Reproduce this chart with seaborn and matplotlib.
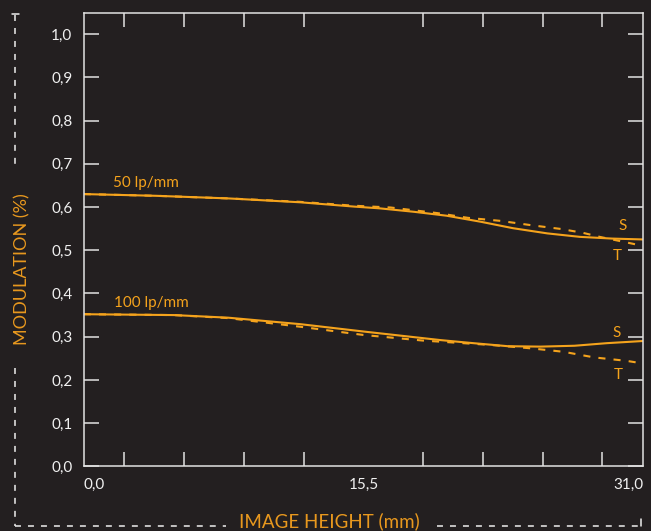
import numpy as np
import pandas as pd
import matplotlib
matplotlib.use("Agg")
import matplotlib.pyplot as plt
from matplotlib.lines import Line2D
import seaborn as sns

# MTF readings (image height in mm, modulation)
height_50_s = [0, 4, 8, 12, 15, 16.4, 18.3, 20.1, 22, 23.8, 25.7, 27.5, 29.3, 31]
mtf_50_s = [0.630, 0.626, 0.620, 0.611, 0.601, 0.597, 0.589, 0.580, 0.566, 0.551, 0.539, 0.531, 0.527, 0.525]
height_50_t = [0, 4, 8, 12, 15, 17, 19.6, 21.3, 23.1, 24.8, 26.5, 27.7, 28.6, 30.1, 31]
mtf_50_t = [0.630, 0.626, 0.620, 0.612, 0.603, 0.599, 0.586, 0.575, 0.568, 0.558, 0.549, 0.540, 0.531, 0.518, 0.510]

height_100_s = [0, 5, 8, 12, 15.5, 19.8, 21.6, 23.5, 25.3, 27.2, 29, 31]
mtf_100_s = [0.352, 0.350, 0.344, 0.329, 0.312, 0.292, 0.285, 0.278, 0.277, 0.279, 0.285, 0.290]
height_100_t = [0, 5, 8, 12, 15.5, 18.8, 20.3, 22.5, 24.8, 26.6, 28.3, 30.1, 31]
mtf_100_t = [0.352, 0.350, 0.343, 0.323, 0.304, 0.291, 0.287, 0.281, 0.273, 0.265, 0.252, 0.244, 0.238]

y_ticks = [0.0, 0.1, 0.2, 0.3, 0.4, 0.5, 0.6, 0.7, 0.8, 0.9, 1.0]
y_labels = ["0,0", "0,1", "0,2", "0,3", "0,4", "0,5", "0,6", "0,7", "0,8", "0,9", "1,0"]
x_ticks = [0.0, 15.5, 31.0]
x_labels = ["0,0", "15,5", "31,0"]
x_minor = [2.26, 5.57, 8.88, 12.19, 15.5, 18.81, 22.12, 25.43, 28.74]

BG = "#231f20"
ORANGE = "#f5a31c"
LABEL_ORANGE = "#e8981e"
AXIS = "#e2e2e2"

frames = []
for freq, h, v, plane in [("50", height_50_s, mtf_50_s, "S"), ("50", height_50_t, mtf_50_t, "T"),
                          ("100", height_100_s, mtf_100_s, "S"), ("100", height_100_t, mtf_100_t, "T")]:
    frames.append(pd.DataFrame({"height": h, "mtf": v, "freq": freq, "plane": plane}))
df = pd.concat(frames, ignore_index=True)
df["curve"] = df["freq"] + df["plane"]

sns.set_style("dark")
plt.rcParams["font.family"] = ["Lato", "DejaVu Sans"]

fig = plt.figure(figsize=(6.51, 5.31), dpi=100, facecolor=BG)
ax = fig.add_axes([0.1286, 0.1218, 0.8591, 0.8537])
ax.set_facecolor(BG)

sns.lineplot(data=df, x="height", y="mtf", style="plane", units="curve", estimator=None,
             dashes={"S": "", "T": (3.4, 3.9)}, color=ORANGE, lw=1.5, legend=False,
             sort=False, ax=ax)

ax.set_xlim(0, 31)
ax.set_ylim(0, 1.049)
ax.set_xlabel("")
ax.set_ylabel("")
ax.grid(False)

for s in ax.spines.values():
    s.set_visible(True)
    s.set_color(AXIS)
    s.set_linewidth(1.1)

ax.set_yticks(y_ticks)
ax.set_yticklabels(y_labels)
ax.tick_params(axis="y", which="major", left=True, right=True, direction="in",
               length=10.8, width=1.1, color=AXIS, labelcolor="#f0f0f0",
               labelsize=11, pad=8.2)

ax.set_xticks(x_ticks)
ax.set_xticklabels(x_labels)
ax.set_xticks(x_minor, minor=True)
ax.tick_params(axis="x", which="major", length=0, labelcolor="#f0f0f0",
               labelsize=11, pad=8.4)
ax.tick_params(axis="x", which="minor", bottom=True, top=True, direction="in",
               length=10.2, width=1.1, color=AXIS)
labels = ax.get_xticklabels()
labels[0].set_ha("left")
labels[-1].set_ha("right")

# curve annotations
ax.text(1.61, 0.656, "50 lp/mm", color=ORANGE, fontsize=11, va="center", ha="left")
ax.text(1.68, 0.379, "100 lp/mm", color=ORANGE, fontsize=11, va="center", ha="left")
ax.text(29.9, 0.555, "S", color=ORANGE, fontsize=11, va="center", ha="center")
ax.text(29.56, 0.487, "T", color=ORANGE, fontsize=11, va="center", ha="center")
ax.text(29.56, 0.309, "S", color=ORANGE, fontsize=11, va="center", ha="center")
ax.text(29.63, 0.211, "T", color=ORANGE, fontsize=11, va="center", ha="center")

# dashed frame around the axis titles
W, H = 651.0, 531.0
dash = dict(color="#eeeeee", lw=1.1, linestyle=(0, (3.9, 4.6)), transform=fig.transFigure)
solid = dict(color="#eeeeee", lw=1.1, transform=fig.transFigure)
fig.add_artist(Line2D([15 / W, 15 / W], [1 - 15 / H, 1 - 168 / H], **dash))
fig.add_artist(Line2D([12 / W, 18.5 / W], [1 - 14 / H, 1 - 14 / H], **solid))
fig.add_artist(Line2D([15 / W, 15 / W], [1 - 368 / H, 1 - 526 / H], **dash))
fig.add_artist(Line2D([15 / W, 226 / W], [1 - 526 / H, 1 - 526 / H], **dash))
fig.add_artist(Line2D([437 / W, 641 / W], [1 - 526 / H, 1 - 526 / H], **dash))
fig.add_artist(Line2D([641 / W, 641 / W], [1 - 526 / H, 1 - 519 / H], **solid))

fig.text(22 / W, 1 - 269 / H, "MODULATION (%)", color=LABEL_ORANGE, fontsize=13,
         rotation=90, ha="center", va="center")
fig.text(329 / W, 1 - 521 / H, "IMAGE HEIGHT (mm)", color=LABEL_ORANGE, fontsize=13.5,
         ha="center", va="center")

fig.savefig("out.png", dpi=100, facecolor=BG)
